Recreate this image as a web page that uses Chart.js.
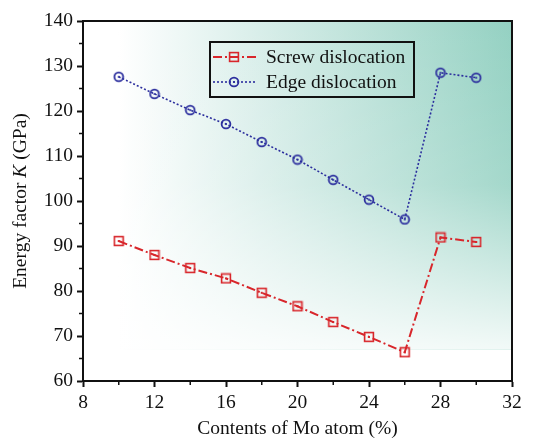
<!DOCTYPE html>
<html>
<head>
<meta charset="utf-8">
<script src="https://cdn.jsdelivr.net/npm/chart.js@4.4.1/dist/chart.umd.min.js"></script>
<style>
  html, body { margin: 0; padding: 0; background: #fff; }
  #wrap { width: 542px; height: 439px; }
</style>
</head>
<body>
<div id="wrap"><canvas id="chart" width="542" height="439"></canvas></div>
<script>
// data
const moContent = [10, 12, 14, 16, 18, 20, 22, 24, 26, 28, 30];
const screwK = [91.1, 88.0, 85.1, 82.8, 79.6, 76.6, 73.1, 69.8, 66.4, 91.9, 90.9];
const edgeK = [127.6, 123.8, 120.2, 117.1, 113.1, 109.2, 104.7, 100.3, 95.9, 128.5, 127.4];
const seriesNames = ['Screw dislocation', 'Edge dislocation'];
const xTicks = [8, 12, 16, 20, 24, 28, 32];
const yTicks = [60, 70, 80, 90, 100, 110, 120, 130, 140];

const RED = '#d8262b';
const BLUE = '#2c2f9e';
const FONT = "'Liberation Serif', 'Times New Roman', serif";

function squareMarker(color) {
  var c = document.createElement('canvas');
  c.width = 12; c.height = 12;
  var g = c.getContext('2d');
  g.strokeStyle = color; g.lineWidth = 1.6;
  g.strokeRect(1.6, 1.6, 8.8, 8.8);
  g.fillStyle = color;
  g.fillRect(5, 5, 2, 2);
  return c;
}
function circleMarker(color) {
  var c = document.createElement('canvas');
  c.width = 12; c.height = 12;
  var g = c.getContext('2d');
  g.strokeStyle = color; g.lineWidth = 1.8;
  g.beginPath(); g.arc(6, 6, 4.4, 0, Math.PI * 2); g.stroke();
  g.fillStyle = color;
  g.beginPath(); g.arc(6, 6, 1.1, 0, Math.PI * 2); g.fill();
  return c;
}

const squareImg = squareMarker(RED);
const circleImg = circleMarker(BLUE);

// shaded backdrop, border box, minor ticks, y title and legend
const decor = {
  id: 'decor',
  beforeDatasetsDraw(chart) {
    const ctx = chart.ctx, x = chart.scales.x, y = chart.scales.y, a = chart.chartArea;
    const x0 = x.getPixelForValue(10), y1 = y.getPixelForValue(67);
    ctx.save();
    const h = ctx.createLinearGradient(x0, 0, a.right, 0);
    h.addColorStop(0, 'rgb(255,255,255)');
    h.addColorStop(0.4, 'rgb(212,236,231)');
    h.addColorStop(1, 'rgb(148,209,194)');
    ctx.fillStyle = h;
    ctx.fillRect(x0, a.top, a.right - x0, y1 - a.top);
    const v = ctx.createLinearGradient(0, a.top, 0, y1);
    v.addColorStop(0, 'rgba(255,255,255,0)');
    v.addColorStop(0.5, 'rgba(255,255,255,0.15)');
    v.addColorStop(1, 'rgba(255,255,255,0.88)');
    ctx.fillStyle = v;
    ctx.fillRect(x0, a.top, a.right - x0, y1 - a.top);
    ctx.restore();
  },
  afterDraw(chart) {
    const ctx = chart.ctx, x = chart.scales.x, y = chart.scales.y, a = chart.chartArea;
    ctx.save();
    ctx.strokeStyle = '#111';
    ctx.lineWidth = 2;
    ctx.beginPath();
    ctx.moveTo(a.left, a.top); ctx.lineTo(a.right, a.top); ctx.lineTo(a.right, a.bottom);
    ctx.stroke();
    // minor ticks
    ctx.lineWidth = 1.5;
    ctx.beginPath();
    for (let i = 0; i < xTicks.length - 1; i++) {
      const px = x.getPixelForValue((xTicks[i] + xTicks[i + 1]) / 2);
      ctx.moveTo(px, a.bottom); ctx.lineTo(px, a.bottom + 4);
    }
    for (let i = 0; i < yTicks.length - 1; i++) {
      const py = y.getPixelForValue((yTicks[i] + yTicks[i + 1]) / 2);
      ctx.moveTo(a.left, py); ctx.lineTo(a.left - 4, py);
    }
    ctx.stroke();

    // y title with italic K
    ctx.fillStyle = '#111';
    ctx.textBaseline = 'middle';
    ctx.translate(21, (a.top + a.bottom) / 2);
    ctx.rotate(-Math.PI / 2);
    const parts = [['Energy factor ', 'normal'], ['K', 'italic'], [' (GPa)', 'normal']];
    let total = 0;
    parts.forEach(p => { ctx.font = p[1] + ' 19.5px ' + FONT; total += ctx.measureText(p[0]).width; });
    let cx = -total / 2;
    ctx.textAlign = 'left';
    parts.forEach(p => {
      ctx.font = p[1] + ' 19.5px ' + FONT;
      ctx.fillText(p[0], cx, 0);
      cx += ctx.measureText(p[0]).width;
    });
    ctx.restore();

    // legend
    ctx.save();
    const bx = 210, by = 42, bw = 204, bh = 55;
    ctx.strokeStyle = '#111'; ctx.lineWidth = 2;
    ctx.strokeRect(bx, by, bw, bh);
    chart.data.datasets.forEach((ds, i) => {
      const ly = by + 15 + i * 25;
      ctx.strokeStyle = ds.borderColor;
      ctx.lineWidth = ds.borderWidth;
      ctx.setLineDash(ds.borderDash);
      ctx.beginPath(); ctx.moveTo(bx + 3, ly); ctx.lineTo(bx + 47, ly); ctx.stroke();
      ctx.setLineDash([]);
      ctx.drawImage(ds.pointStyle, bx + 24 - 6, ly - 6);
      ctx.fillStyle = '#111';
      ctx.font = '19.5px ' + FONT;
      ctx.textBaseline = 'middle';
      ctx.fillText(ds.label, bx + 56, ly + 1);
    });
    ctx.restore();
  }
};

function pairs(ys) {
  return moContent.map((v, i) => ({ x: v, y: ys[i] }));
}

const axisFont = { family: FONT, size: 19.5 };

new Chart(document.getElementById('chart'), {
  type: 'line',
  data: {
    datasets: [
      {
        label: seriesNames[0],
        data: pairs(screwK),
        borderColor: RED,
        borderWidth: 2,
        borderDash: [9, 3, 2, 3],
        pointStyle: squareImg,
        tension: 0
      },
      {
        label: seriesNames[1],
        data: pairs(edgeK),
        borderColor: BLUE,
        borderWidth: 1.6,
        borderDash: [2, 2],
        pointStyle: circleImg,
        tension: 0
      }
    ]
  },
  options: {
    responsive: false,
    animation: false,
    layout: { padding: { left: 0, right: 30, top: 21, bottom: 0 } },
    plugins: { legend: { display: false }, tooltip: { enabled: false } },
    scales: {
      x: {
        type: 'linear',
        min: xTicks[0],
        max: xTicks[xTicks.length - 1],
        afterBuildTicks: s => { s.ticks = xTicks.map(v => ({ value: v })); },
        afterFit: s => { s.height = 58; },
        ticks: { font: axisFont, color: '#111', padding: 4, maxRotation: 0 },
        grid: { drawOnChartArea: false, drawTicks: true, tickLength: 6, tickWidth: 2, tickColor: '#111' },
        border: { display: true, color: '#111', width: 2 },
        title: { display: true, text: 'Contents of Mo atom (%)', font: { family: FONT, size: 19.5, lineHeight: 1 }, color: '#111', padding: 0 }
      },
      y: {
        min: yTicks[0],
        max: yTicks[yTicks.length - 1],
        afterBuildTicks: s => { s.ticks = yTicks.map(v => ({ value: v })); },
        afterFit: s => { s.width = 83; },
        ticks: { font: axisFont, color: '#111', padding: 4 },
        grid: { drawOnChartArea: false, drawTicks: true, tickLength: 6, tickWidth: 2, tickColor: '#111' },
        border: { display: true, color: '#111', width: 2 }
      }
    }
  },
  plugins: [decor]
});
</script>
</body>
</html>
